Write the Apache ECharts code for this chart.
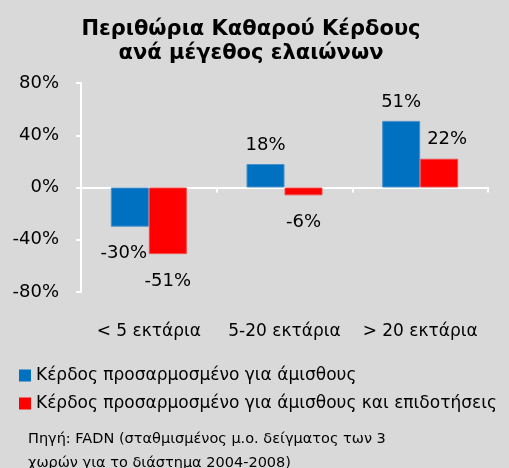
<!DOCTYPE html>
<html>
<head>
<meta charset="utf-8">
<script src="https://cdn.jsdelivr.net/npm/echarts@6/dist/echarts.min.js"></script>
<style>
html,body{margin:0;padding:0;background:#d9d9d9;}
#c{width:509px;height:468px;}
</style>
</head>
<body>
<div id="c"></div>
<script>
var categories = ['< 5 εκτάρια', '5-20 εκτάρια', '> 20 εκτάρια'];
var seriesNames = ['Κέρδος προσαρμοσμένο για άμισθους', 'Κέρδος προσαρμοσμένο για άμισθους και επιδοτήσεις'];
var profitAdjWages = [-30, 18, 51];
var profitAdjWagesSubsidies = [-51, -6, 22];
var yTicks = [-80, -40, 0, 40, 80];
var titleText = 'Περιθώρια Καθαρού Κέρδους\nανά μέγεθος ελαιώνων';
var sourceText = 'Πηγή: FADN (σταθμισμένος μ.ο. δείγματος των 3\nχωρών για το διάστημα 2004-2008)';

var FONT = 'DejaVu Sans';
var chart = echarts.init(document.getElementById('c'), null, {renderer: 'canvas'});

function labelCfg(vals, offsets) {
  return vals.map(function (v, i) {
    return {
      value: v,
      label: {
        position: v >= 0 ? 'top' : 'bottom',
        distance: v >= 0 ? 10 : 18,
        offset: offsets[i]
      }
    };
  });
}

var option = {
  backgroundColor: '#d9d9d9',
  animation: false,
  title: [{
    text: titleText,
    left: 246, top: 13, textAlign: 'center',
    textStyle: {fontFamily: FONT, fontWeight: 'bold', fontSize: 21, lineHeight: 24, color: '#000'}
  }, {
    text: sourceText,
    left: 23, top: 422,
    textStyle: {fontFamily: FONT, fontWeight: 'normal', fontSize: 14.5, lineHeight: 24, color: '#000'}
  }],
  legend: {
    orient: 'vertical', left: 14, top: 362,
    itemWidth: 12, itemHeight: 12, itemGap: 11,
    icon: 'rect',
    itemStyle: {borderWidth: 0},
    textStyle: {fontFamily: FONT, fontSize: 17, color: '#000'},
    data: seriesNames
  },
  grid: {left: 81, right: 21, top: 83, bottom: 176, containLabel: false},
  xAxis: [{
    type: 'category', data: categories, position: 'bottom',
    axisLine: {show: false, onZero: false}, axisTick: {show: false},
    axisLabel: {interval: 0, fontFamily: FONT, fontSize: 17, color: '#000', margin: 31}
  }, {
    type: 'category', data: categories, position: 'bottom',
    axisLine: {show: true, onZero: true, lineStyle: {color: '#fff', width: 2}},
    axisTick: {show: true, length: 5, lineStyle: {color: '#fff', width: 2}},
    axisLabel: {show: false}
  }],
  yAxis: {
    type: 'value', min: yTicks[0], max: yTicks[yTicks.length - 1], interval: 40,
    axisLine: {show: true, lineStyle: {color: '#fff', width: 2}},
    axisTick: {show: true, length: 5, lineStyle: {color: '#fff', width: 2}},
    splitLine: {show: false},
    axisLabel: {fontFamily: FONT, fontSize: 18, color: '#000', margin: 22, formatter: '{value}%'}
  },
  series: [{
    name: seriesNames[0], type: 'bar', xAxisIndex: 0,
    data: labelCfg(profitAdjWages, [[-6, 0], [0, 0], [0, 0]]),
    barWidth: 38, barGap: '0%',
    itemStyle: {color: '#0070c0', borderColor: '#4a90c8', borderWidth: 1},
    label: {show: true, formatter: '{c}%', fontFamily: FONT, fontSize: 18, color: '#000'}
  }, {
    name: seriesNames[1], type: 'bar', xAxisIndex: 0,
    data: labelCfg(profitAdjWagesSubsidies, [[0, 0], [0, 0], [8, 0]]),
    barWidth: 38, barGap: '0%',
    itemStyle: {color: '#ff0000', borderColor: '#f04848', borderWidth: 1},
    label: {show: true, formatter: '{c}%', fontFamily: FONT, fontSize: 18, color: '#000'}
  }]
};
chart.setOption(option);
</script>
</body>
</html>
